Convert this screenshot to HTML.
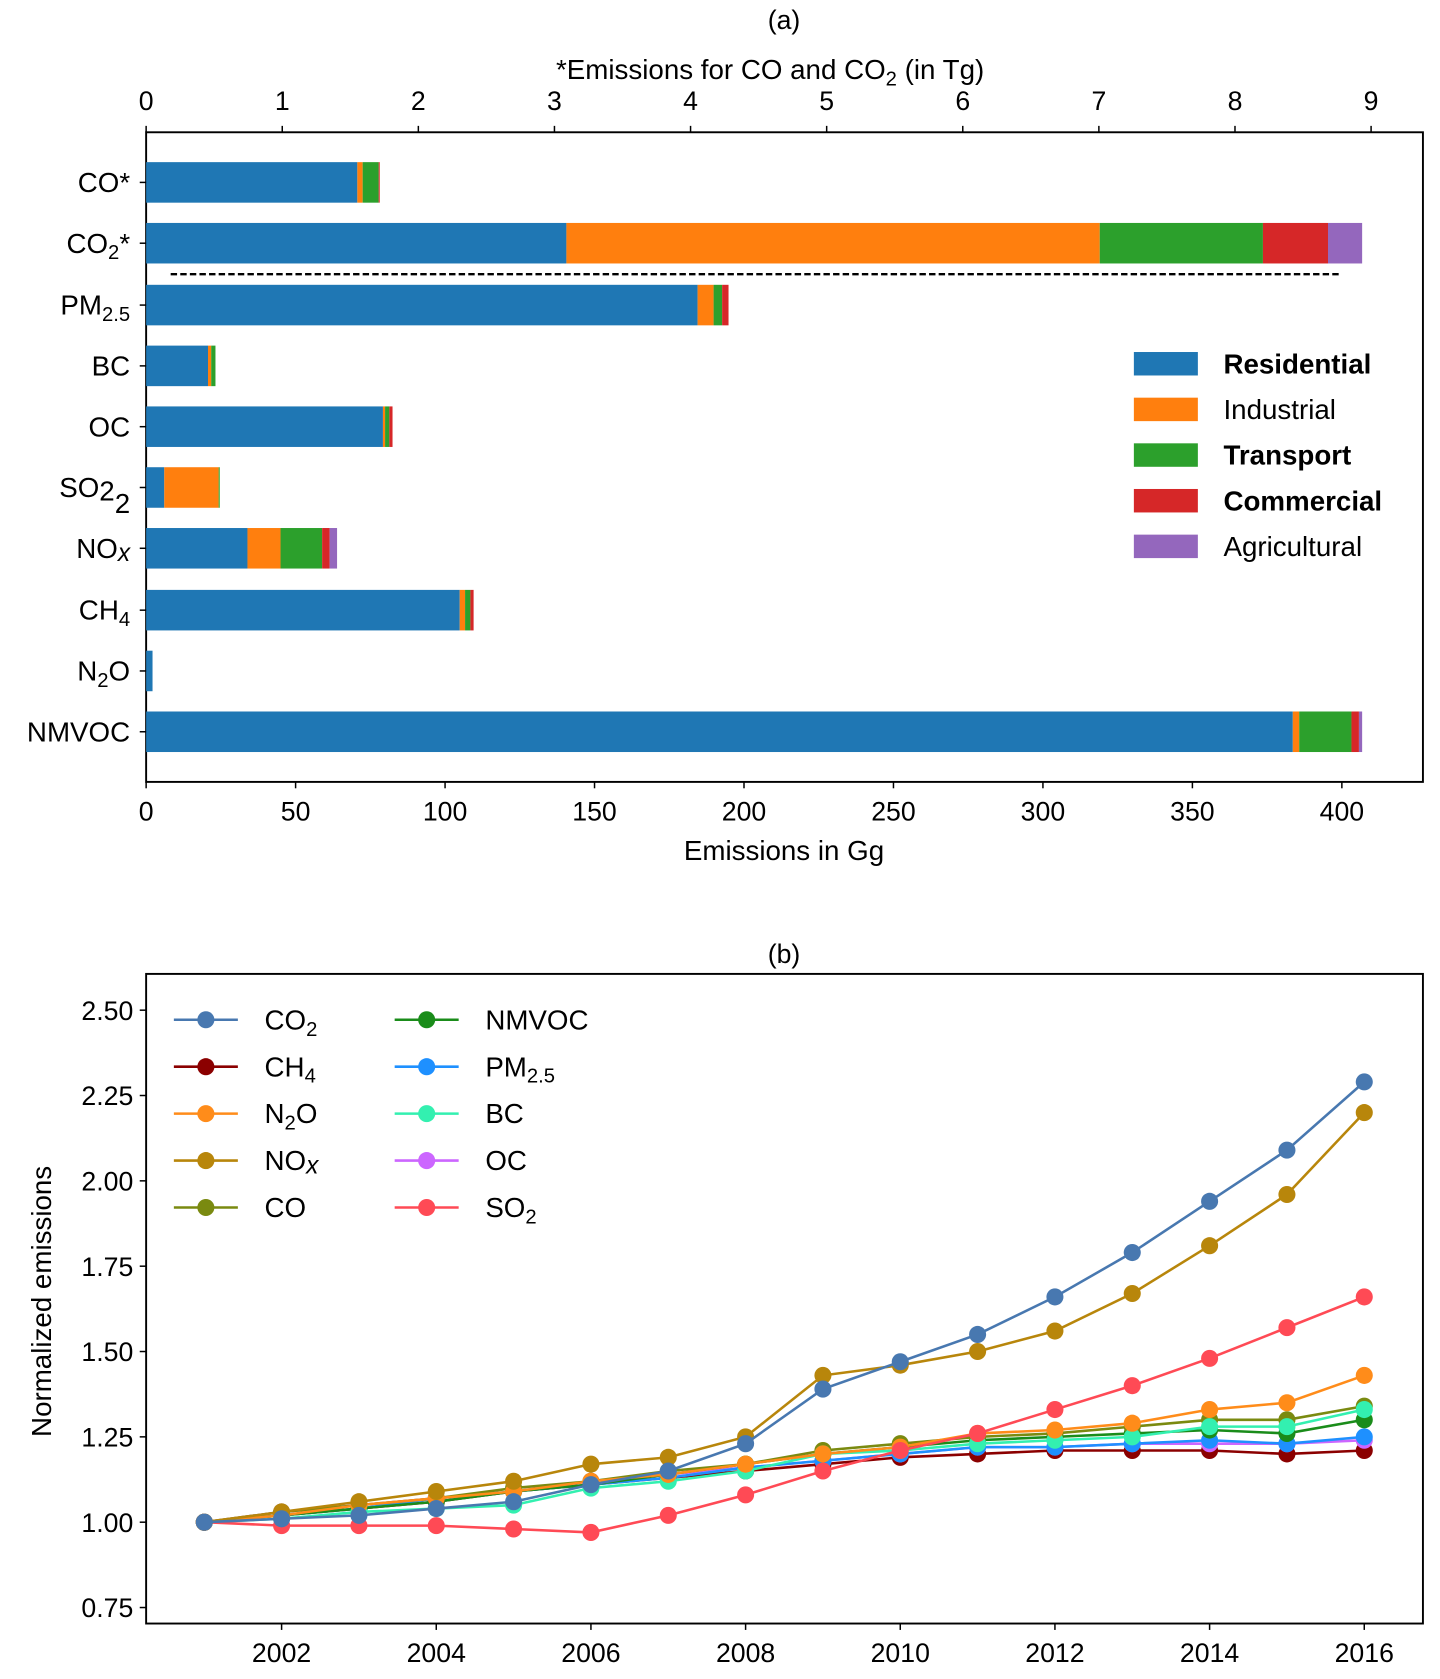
<!DOCTYPE html>
<html><head><meta charset="utf-8"><style>
html,body{margin:0;padding:0;background:#fff}
svg{display:block}
text{font-family:"Liberation Sans",Arial,sans-serif;fill:#000}
</style></head><body>
<svg id="s" width="1440" height="1679" viewBox="0 0 1350 1574" preserveAspectRatio="none" xmlns="http://www.w3.org/2000/svg">
<rect width="1350" height="1574" fill="#fff"/>
<g id="a"></g>
<g id="b"></g>
<text x="735" y="27" font-size="25" text-anchor="middle">(a)</text>
<text x="722" y="74" font-size="26" text-anchor="middle">*Emissions for CO and CO<tspan font-size="19" dy="6">2</tspan><tspan dy="-6"> (in Tg)</tspan></text>
<text x="735" y="806" font-size="26" text-anchor="middle">Emissions in Gg</text>
<text x="735" y="903" font-size="25" text-anchor="middle">(b)</text>
<text transform="translate(48,1220) rotate(-90)" font-size="26" text-anchor="middle">Normalized emissions</text>
</svg>
<script>
var NS="http://www.w3.org/2000/svg";
function el(p,t,a,txt){var e=document.createElementNS(NS,t);for(var k in a)e.setAttribute(k,a[k]);if(txt!==undefined)e.textContent=txt;p.appendChild(e);return e;}
var A=document.getElementById('a');
el(A,'rect',{x:137,y:124,width:1197,height:609,fill:'none',stroke:'#000','stroke-width':1.8});
var C=['#1f77b4','#ff7f0e','#2ca02c','#d62728','#9467bd'];
var bars=[[171,[335,340,355,356]],[228,[531,1031,1184,1245,1277]],[286,[654,669,677,683]],[343,[195,198,202]],[400,[359,361,365,368]],[457,[154,205,206]],[514,[232,263,302,309,316]],[572,[431,436,441,444]],[629,[143]],[686,[1212,1218,1267,1274,1277]]];
bars.forEach(function(b){var x0=137;b[1].forEach(function(x,i){el(A,'rect',{x:x0,y:b[0]-19,width:x-x0,height:38,fill:C[i]});x0=x;});});
el(A,'line',{x1:160,y1:257,x2:1256,y2:257,stroke:'#000','stroke-width':2.2,'stroke-dasharray':'6,3'});
var labs=[['CO*'],['CO','2','*'],['PM','2.5'],['BC'],['OC'],['SO','2','','2'],['NO','x'],['CH','4'],['N','2','O'],['NMVOC']];
labs.forEach(function(l,i){var y=bars[i][0];el(A,'line',{x1:131,y1:y,x2:137,y2:y,stroke:'#000','stroke-width':1.4});
 var t=el(A,'text',{x:122,y:y+9,'font-size':26,'text-anchor':'end'});t.appendChild(document.createTextNode(l[0]));
 if(l[1]){var s=el(t,'tspan',{'font-size':i==5?26:19,dy:i==5?3:6},l[1]);if(i==6){s.setAttribute('font-style','italic');s.setAttribute('font-size',23);s.setAttribute('dy',3);}
 if(l[2]!==undefined&&l[2]!=='')el(t,'tspan',{dy:-6},l[2]);
 if(l[3])el(t,'tspan',{'font-size':26,dy:12},l[3]);}
});
for(var g=0;g<=400;g+=50){var x=137+g*2.8025;el(A,'line',{x1:x,y1:733,x2:x,y2:739,stroke:'#000','stroke-width':1.4});el(A,'text',{x:x,y:769,'font-size':25,'text-anchor':'middle'},g);}
for(var g=0;g<=9;g++){var x=137+g*127.6;el(A,'line',{x1:x,y1:118,x2:x,y2:124,stroke:'#000','stroke-width':1.4});el(A,'text',{x:x,y:103,'font-size':25,'text-anchor':'middle'},g);}
var LN=['Residential','Industrial','Transport','Commercial','Agricultural'];
LN.forEach(function(n,i){var y=341+i*42.8;el(A,'rect',{x:1063,y:y-11,width:60,height:22,fill:C[i]});var t=el(A,'text',{x:1147,y:y+9,'font-size':26},n);if(i==0||i==2||i==3)t.setAttribute('font-weight','bold');});
var B=document.getElementById('b');
el(B,'rect',{x:137,y:913,width:1197,height:609,fill:'none',stroke:'#000','stroke-width':1.8});
function Y(v){return 1427-(v-1)*320;}
function X(yr){return 191.5+(yr-2001)*72.5;}
[0.75,1,1.25,1.5,1.75,2,2.25,2.5].forEach(function(v){var y=Y(v);el(B,'line',{x1:131,y1:y,x2:137,y2:y,stroke:'#000','stroke-width':1.4});el(B,'text',{x:125,y:y+9,'font-size':25,'text-anchor':'end'},v.toFixed(2));});
for(var yr=2002;yr<=2016;yr+=2){var x=X(yr);el(B,'line',{x1:x,y1:1522,x2:x,y2:1528,stroke:'#000','stroke-width':1.4});el(B,'text',{x:x,y:1558,'font-size':25,'text-anchor':'middle'},yr);}
var S=[
['CH4','#8b0000',[1,1.02,1.04,1.06,1.09,1.11,1.13,1.15,1.17,1.19,1.20,1.21,1.21,1.21,1.20,1.21]],
['OC','#cc66ff',[1,1.03,1.05,1.07,1.09,1.12,1.14,1.16,1.18,1.20,1.22,1.22,1.23,1.23,1.23,1.24]],
['PM','#1e90ff',[1,1.02,1.04,1.07,1.09,1.11,1.13,1.16,1.18,1.20,1.22,1.22,1.23,1.24,1.23,1.25]],
['NMVOC','#1a8c1a',[1,1.02,1.04,1.06,1.09,1.11,1.14,1.17,1.20,1.22,1.24,1.25,1.26,1.27,1.26,1.30]],
['CO','#7a8a10',[1,1.03,1.05,1.07,1.10,1.12,1.15,1.17,1.21,1.23,1.25,1.26,1.28,1.30,1.30,1.34]],
['BC','#33f0b0',[1,1.01,1.03,1.04,1.05,1.10,1.12,1.15,1.20,1.21,1.23,1.24,1.25,1.28,1.28,1.33]],
['N2O','#ff8c1a',[1,1.02,1.05,1.07,1.09,1.12,1.14,1.17,1.20,1.22,1.26,1.27,1.29,1.33,1.35,1.43]],
['SO2','#ff4a55',[1,.99,.99,.99,.98,.97,1.02,1.08,1.15,1.21,1.26,1.33,1.40,1.48,1.57,1.66]],
['NOx','#b8860b',[1,1.03,1.06,1.09,1.12,1.17,1.19,1.25,1.43,1.46,1.50,1.56,1.67,1.81,1.96,2.20]],
['CO2','#4878b0',[1,1.01,1.02,1.04,1.06,1.11,1.15,1.23,1.39,1.47,1.55,1.66,1.79,1.94,2.09,2.29]]];
S.forEach(function(s){var pts=s[2].map(function(v,i){return X(2001+i)+','+Y(v);}).join(' ');
 el(B,'polyline',{points:pts,fill:'none',stroke:s[1],'stroke-width':2.4});
 s[2].forEach(function(v,i){el(B,'circle',{cx:X(2001+i),cy:Y(v),r:8,fill:s[1]});});});
var col={};S.forEach(function(s){col[s[0]]=s[1];});
var L=[[0,0,'CO2','CO','2',''],[0,1,'CH4','CH','4',''],[0,2,'N2O','N','2','O'],[0,3,'NOx','NO','x',''],[0,4,'CO','CO','',''],
[1,0,'NMVOC','NMVOC','',''],[1,1,'PM','PM','2.5',''],[1,2,'BC','BC','',''],[1,3,'OC','OC','',''],[1,4,'SO2','SO','2','']];
L.forEach(function(l){var x0=l[0]?370:163,y=956+l[1]*44;var c=col[l[2]];
 el(B,'line',{x1:x0,y1:y,x2:x0+60,y2:y,stroke:c,'stroke-width':2.4});el(B,'circle',{cx:x0+30,cy:y,r:8,fill:c});
 var t=el(B,'text',{x:x0+85,y:y+9,'font-size':26});t.appendChild(document.createTextNode(l[3]));
 if(l[4]){var sp=el(t,'tspan',{'font-size':19,dy:6},l[4]);if(l[2]=='NOx'){sp.setAttribute('font-style','italic');sp.setAttribute('font-size',23);sp.setAttribute('dy',3);}}
 if(l[5])el(t,'tspan',{dy:-6},l[5]);
});
</script>
</body></html>
